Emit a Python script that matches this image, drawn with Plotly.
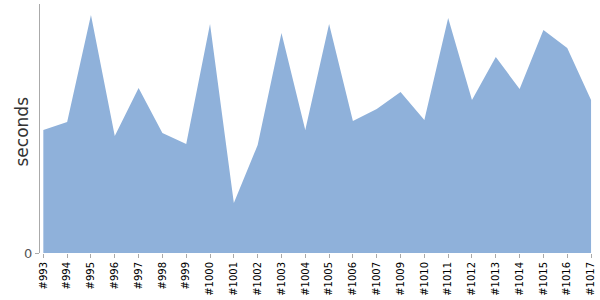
import plotly.graph_objects as go

categories = ["#993", "#994", "#995", "#996", "#997", "#998", "#999", "#1000", "#1001",
              "#1002", "#1003", "#1004", "#1005", "#1006", "#1007", "#1009", "#1010",
              "#1011", "#1012", "#1013", "#1014", "#1015", "#1016", "#1017"]
seconds = [123, 131, 238, 117, 165, 120, 109, 229, 50, 108, 220, 123, 229, 132, 144,
           161, 133, 235, 153, 196, 164, 223, 205, 153]

fig = go.Figure()
fig.add_trace(go.Scatter(
    x=categories, y=seconds, mode="lines", fill="tozeroy",
    line=dict(color="#8fb1da", width=0), fillcolor="#8fb1da",
    hoverinfo="x+y"))

fig.update_layout(
    width=600, height=300,
    margin=dict(l=40, r=8, t=4, b=47),
    paper_bgcolor="white", plot_bgcolor="white",
    showlegend=False,
    font=dict(family="DejaVu Sans", size=10, color="#000"),
    xaxis=dict(type="category", range=[-0.14, 23.04], showgrid=False, showline=False,
               zeroline=False, ticks="outside", ticklen=4, tickcolor="#aaaaaa",
               tickangle=-90, tickfont=dict(size=10, color="#000"), automargin=False),
    yaxis=dict(range=[0, 249], tickvals=[0], ticktext=["0"], showgrid=False,
               zeroline=False, showline=True, linecolor="#aaaaaa", linewidth=1,
               ticks="outside", ticklen=4, tickcolor="#aaaaaa", automargin=False,
               tickfont=dict(size=13, color="#555")),
    annotations=[dict(text="seconds", textangle=-90, xref="paper", yref="paper",
                      x=(21 - 40) / 552, y=(253 - 131.5) / 249, xanchor="center",
                      yanchor="middle", showarrow=False,
                      font=dict(size=17, color="#333"))],
)

fig.write_html("out.html")
